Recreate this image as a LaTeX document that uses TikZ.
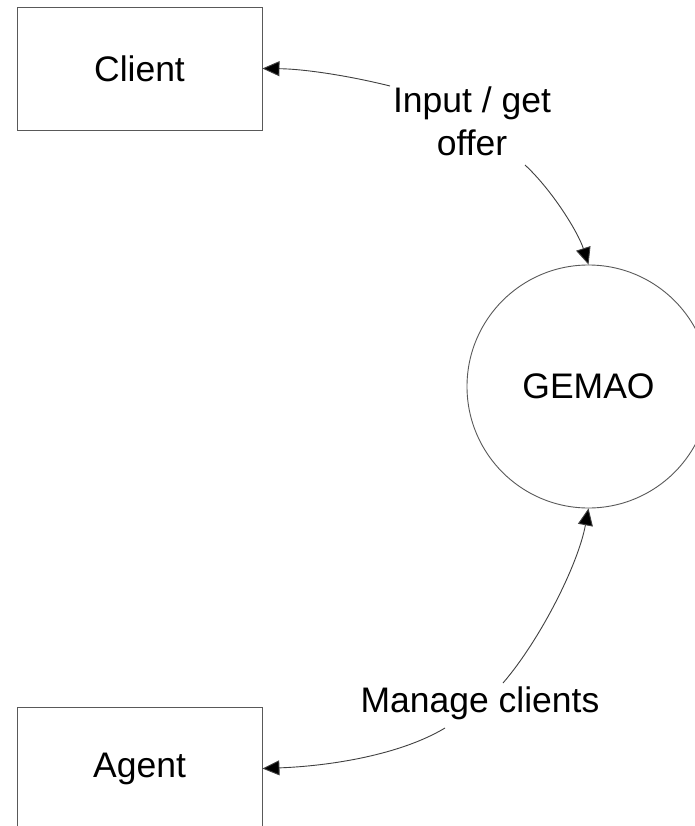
\documentclass[tikz,border=0pt]{standalone}
\usepackage{fontspec}
\setmainfont{Liberation Sans}
\usetikzlibrary{arrows.meta}
\tikzset{
  entity/.style={draw=black!65, line width=0.9pt, minimum width=245pt, minimum height=123pt, inner sep=0pt},
  process/.style={draw=black!65, line width=0.9pt, circle, minimum size=243pt, inner sep=0pt},
  flowlabel/.style={align=center, inner sep=0pt},
  flow/.style={draw=black!75, line width=0.9pt, -{Triangle[length=17pt, width=15pt, fill=black]}},
}
\begin{document}
\begin{tikzpicture}[x=1pt, y=-1pt, font=\fontsize{35.5}{43}\selectfont]
  \useasboundingbox (0,0) rectangle (695,826);
  \clip (0,0) rectangle (695,826);
  \fill[white] (0,0) rectangle (695,826);

  % external entities and the process
  \node[entity] (client) at (139.5,68.5) {Client};
  \node[entity] (agent) at (139.5,768.5) {Agent};
  \node[process] (gemao) at (588.5,386.5) {GEMAO};

  % flow labels
  \node[flowlabel] (offer) at (472,121) {Input / get\\offer};
  \node[flowlabel] (manage) at (480,703) {Manage clients};

  % free ends of the flows at the labels
  \coordinate (offerA) at (390,86);
  \coordinate (offerB) at (525,165);
  \coordinate (manageA) at (503,683);
  \coordinate (manageB) at (445,728);

  % data flows
  \draw[flow] (offerA) .. controls (350,76) and (305,69) .. (client.east);
  \draw[flow] (offerB) .. controls (552,190) and (578,232) .. (gemao.north);
  \draw[flow] (manageA) .. controls (540,640) and (578,565) .. (gemao.south);
  \draw[flow] (manageB) .. controls (400,755) and (330,766) .. (agent.east);
\end{tikzpicture}
\end{document}
